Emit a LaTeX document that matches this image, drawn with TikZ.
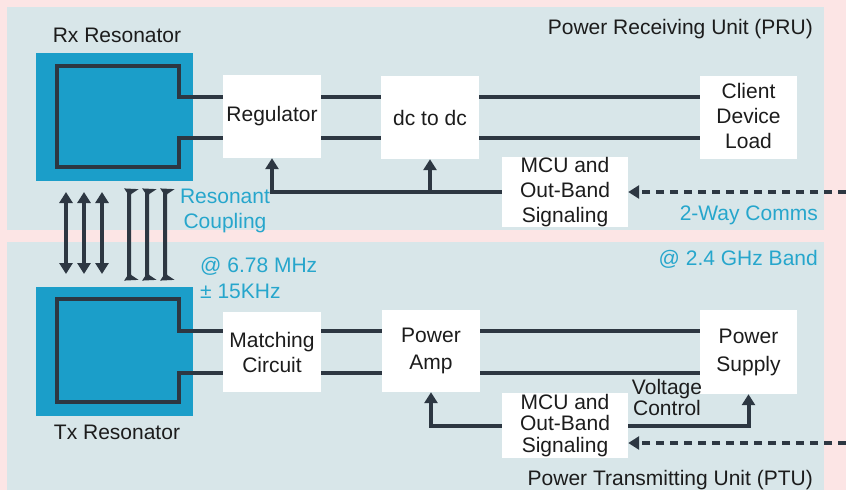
\documentclass[tikz,border=0pt]{standalone}
\usepackage{fontspec}
\setmainfont{Liberation Sans}
\usetikzlibrary{arrows.meta}
\definecolor{pinkbg}{RGB}{252,229,229}
\definecolor{panel}{RGB}{216,230,233}
\definecolor{resblue}{RGB}{27,158,201}
\definecolor{wire}{RGB}{45,55,66}
\definecolor{cyantext}{RGB}{38,166,204}
\definecolor{txt}{RGB}{28,28,28}
\tikzset{
  blk/.style={fill=white, draw=none, inner sep=0pt, align=center, text=txt},
  lbl/.style={text=txt, inner sep=0pt, font=\fontsize{21}{25}\selectfont},
  clbl/.style={text=cyantext, inner sep=0pt, font=\fontsize{21}{25}\selectfont},
  wireline/.style={draw=wire, line width=4pt},
  arr/.style={wireline, -{Triangle[width=13pt,length=11pt]}},
  dblarr/.style={wireline, {Triangle[width=13pt,length=11pt]}-{Triangle[width=13pt,length=11pt]}},
  bracketarr/.style={draw=wire, line width=4pt, {Triangle[width=14pt,length=10pt,harpoon]}-{Triangle[width=14pt,length=10pt,harpoon,swap]}},
  dasharr/.style={draw=wire, line width=4pt, dash pattern=on 8pt off 6pt, -{Triangle[width=13pt,length=11pt]}},
  resq/.style={fill=resblue, draw=none}
}
\begin{document}
\begin{tikzpicture}[x=1pt,y=-1pt]
\useasboundingbox (0,0) rectangle (846,490);
% backgrounds
\fill[pinkbg] (0,0) rectangle (846,490);
\fill[panel] (7,7) rectangle (824,230);
\fill[panel] (7,242) rectangle (824,490);

% ---------- PRU ----------
\node[lbl, anchor=base east] (pru) at (813,34.5) {Power Receiving Unit (PRU)};
\node[lbl, anchor=base] (rxl) at (117,42.5) {Rx Resonator};
\fill[resq] (36,53) rectangle (193,181);
\node[blk, font=\fontsize{21}{25}\selectfont, minimum width=98pt, minimum height=83pt] (reg) at (272,116.5) {Regulator};
\node[blk, font=\fontsize{21}{25}\selectfont, minimum width=98pt, minimum height=83pt] (dc) at (430,117.5) {dc to dc};
\node[blk, font=\fontsize{21}{25}\selectfont, minimum width=97pt, minimum height=83pt] (load) at (748.5,117.5) {Client\\Device\\Load\vspace{4pt}};
\node[blk, font=\fontsize{21}{25}\selectfont, minimum width=126pt, minimum height=68pt] (mcur) at (565,192) {MCU and\\Out-Band\\Signaling};

\coordinate (ra) at (0,97);
\coordinate (rb) at (0,138);
\draw[wireline] (reg.west |- ra) -- (179,97) -- (179,66) -- (57,66) -- (57,167) -- (179,167) -- (179,138) -- (reg.west |- rb);
\draw[wireline] (reg.east |- ra) -- (dc.west |- ra);
\draw[wireline] (reg.east |- rb) -- (dc.west |- rb);
\draw[wireline] (dc.east |- ra) -- (load.west |- ra);
\draw[wireline] (dc.east |- rb) -- (load.west |- rb);
\draw[arr] (mcur.west) -| (reg.south);
\draw[arr] (dc.south |- mcur.west) -- (dc.south);
\coordinate (dashT) at (846,192);
\draw[dasharr] (dashT) -- (mcur.east);
\node[clbl, anchor=base east] (comms) at (818,220.5) {2-Way Comms};
\node[clbl, align=center] (coup) at (225,211) {Resonant\\Coupling};

% ---------- coupling arrows ----------
\draw[dblarr] (66,192) -- (66,274);
\draw[dblarr] (84,192) -- (84,274);
\draw[dblarr] (102,192) -- (102,274);
\draw[bracketarr] (138,188) -- (129,194) -- (129,275) -- (138,281);
\draw[bracketarr] (156,188) -- (147,194) -- (147,275) -- (156,281);
\draw[bracketarr] (174,188) -- (165,194) -- (165,275) -- (174,281);

% ---------- PTU ----------
\node[clbl, anchor=base east] (ghz) at (818,265.5) {@ 2.4 GHz Band};
\node[clbl, align=left, anchor=north west, font=\fontsize{21}{26}\selectfont] (mhz) at (200,257) {@ 6.78 MHz\\± 15KHz};
\fill[resq] (36,287) rectangle (193,416);
\node[lbl, anchor=base] (txl) at (117,439.5) {Tx Resonator};
\node[blk, font=\fontsize{21}{25}\selectfont, minimum width=98pt, minimum height=80pt] (match) at (272,352) {Matching\\Circuit};
\node[blk, font=\fontsize{21}{27}\selectfont, minimum width=98pt, minimum height=82pt] (amp) at (431,351) {Power\\Amp};
\node[blk, font=\fontsize{21}{28}\selectfont, minimum width=97pt, minimum height=84pt] (sup) at (748.5,352) {Power\\Supply};
\node[blk, font=\fontsize{21}{21.5}\selectfont, minimum width=126pt, minimum height=65pt] (mcut) at (565,425.5) {MCU and\\Out-Band\\Signaling};

\coordinate (ta) at (0,331);
\coordinate (tb) at (0,373);
\draw[wireline] (match.west |- ta) -- (179,331) -- (179,299) -- (57,299) -- (57,402) -- (179,402) -- (179,373) -- (match.west |- tb);
\draw[wireline] (match.east |- ta) -- (amp.west |- ta);
\draw[wireline] (match.east |- tb) -- (amp.west |- tb);
\draw[wireline] (amp.east |- ta) -- (sup.west |- ta);
\draw[wireline] (amp.east |- tb) -- (sup.west |- tb);
\draw[arr] (mcut.west) -| (amp.south);
\draw[arr] (mcut.east) -| (sup.south);
\coordinate (dashB) at (846,443);
\draw[dasharr] (dashB) -- (mcut.east |- dashB);
\node[lbl, align=center, font=\fontsize{21}{21}\selectfont] (volt) at (667,397) {Voltage\\Control};
\node[lbl, anchor=base east] (ptu) at (813,485.5) {Power Transmitting Unit (PTU)};
\end{tikzpicture}
\end{document}
